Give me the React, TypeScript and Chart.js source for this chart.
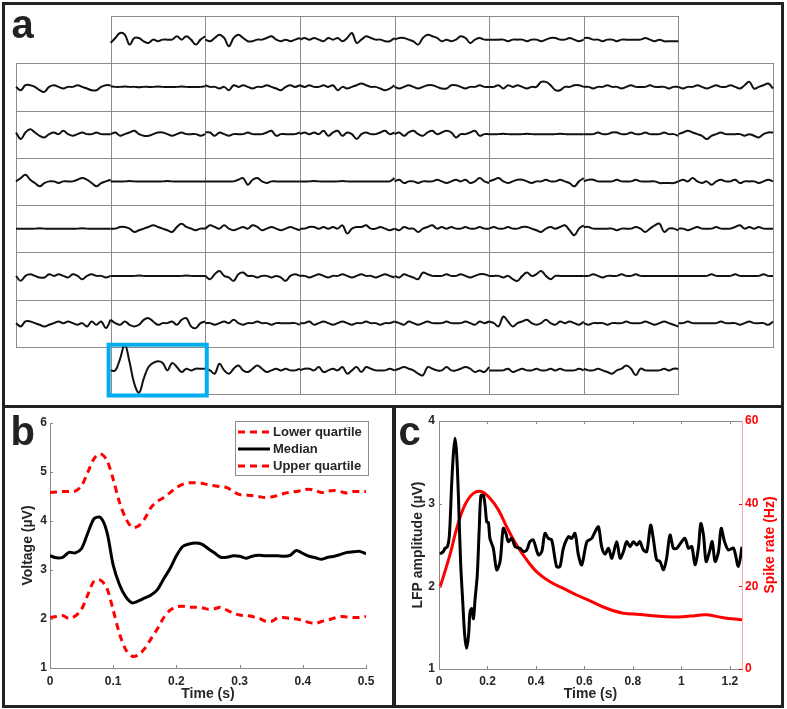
import React, { useEffect, useRef } from 'react';
import { Chart, registerables } from 'chart.js';

Chart.register(...registerables);

const FONT = "'Liberation Sans', Arial, Helvetica, sans-serif";
const TEXT = '#262626';
const AXIS = '#8a8a8a';
const RED = '#ff0000';
Chart.defaults.font.family = FONT;

// ---------------- Panel a : grid of electrode traces ----------------
const GRID_ROWS = 8;
const GRID_COLS = 8;
const ROW_COLUMNS = [
  [1, 2, 3, 4, 5, 6],
  [0, 1, 2, 3, 4, 5, 6, 7],
  [0, 1, 2, 3, 4, 5, 6, 7],
  [0, 1, 2, 3, 4, 5, 6, 7],
  [0, 1, 2, 3, 4, 5, 6, 7],
  [0, 1, 2, 3, 4, 5, 6, 7],
  [0, 1, 2, 3, 4, 5, 6, 7],
  [1, 2, 3, 4, 5, 6],
];
const HIGHLIGHT_ROW = 7;
const HIGHLIGHT_COL = 1;
const AMP = 0.035;

const ROW0_TRACES = [
  [-2, 1, 4, 3, -3, 1, 1, -1, -2, 0, -1, 0, 0, 0, 2, 0, 2, 0, -3, 0, 2],
  [0, -1, 1, 3, 1, -4, 1, 3, 1, -1, -1, 0, 0, 1, 2, 0, -1, 0, -1, 0, 1],
  [0, 1, 0, 1, 0, -1, 1, 0, 1, -1, 1, 4, -2, 0, 2, 1, 0, 0, -1, -1, 1],
  [0, 1, 1, 0, -1, -3, 1, 3, 2, 1, -1, 0, -1, 0, 2, 1, -2, 0, 1, 0, 0],
  [0, 0, 0, 0, -1, 0, 0, 0, -1, 0, 0, -1, 0, 1, 1, 0, 0, 1, 0, -1, 0],
  [1, 1, 0, 0, -1, 0, 0, -1, 0, 0, 0, 0, 0, 1, 0, -1, 0, -1, -1, -1, -1],
];
const ROW1_TRACES = [
  [0, -2, 1, 1, 0, -2, -3, 0, 1, 0, -1, 0, 0, 1, 0, -1, -2, -2, 0, 1, 1],
  [0.3, 0, 0, 0.2, 0, 0, -0.2, 0, 0, 0, 0.2, 0, 0, 0, 0, 0.2, 0, 0, 0, 0, 0.3],
  [1, 0, 0, -1, 0, -2, 1, 0, 1, 0, -1, 0, 0, 1, 0, -1, -2, 0, 1, 0, 1],
  [1, 0, 1, 0, 0, 1, 0, 1, -2, 0, -1, 0, 1, 2, 1, 0, 0, -1, -2, -1, 1],
  [0, -1, 0, 1, 0, -1, 0, 1, 1, 0, -1, -1, 1, 1, 0, -1, 0, 0, 1, 0, 0],
  [0, 0, 1, -1, 1, 0, 1, 0, -1, 0, 0, 3, 3, 1, -2, -2, 0, 0, 1, 1, 0],
  [0, 0, -1, 0, 0, 1, 0, 0, -1, 0, 1, 0, 0, 0, 1, 0, 0, 0, -1, 0, 0],
  [0, -1, 0, 0, 1, 0, -1, 0, 1, 0, 0, 1, 0, -1, 1, 3, -1, 0, 1, 2, -1],
];
const ROW2_TRACES = [
  [1, -3, 1, 3, 1, -1, -2, 0, 1, 0, 2, 0, -1, 0, 1, 0, 0, 1, 0, 0, 0],
  [0, 1, -1, 0, 1, 2, 0, -1, -1, 0, 1, 1, 0, -1, 0, 1, 0, 0, 0, -1, 0],
  [1, 1, -1, 1, 0, -1, 0, 0, 0, 1, 0, 0, 0, 1, 2, -1, 0, 0, 0, 0, 1],
  [0, 1, 0, 1, 0, 2, -1, 1, 2, -1, 1, 0, -3, 0, 1, 0, 0, 1, 2, 0, 1],
  [0, 1, -1, 1, 2, 0, -1, 1, 2, 0, 1, 2, 1, -2, 0, 0, 1, 2, -1, 0, 0],
  [0, 0, 0, 0.2, 0, 0, 0, 0, 0.2, 0, 0, 0, 0, 0, 0, 0.2, 0, 0, 0, 0, 0],
  [0, 0, 0, 1, 0, 0, 1, 1, 0, 0, 1, 0, 0, 1, 0, 0, 0, 1, 0, 0, -1],
  [0, 1, 2, 1, 0, -1, -3, -1, 0, 1, 0, 0, 0, 0, -1, 0, -1, -2, 0, 1, 1],
];
const ROW3_TRACES = [
  [0, 2, 4, 1, -1, -3, -1, 0, 0, -1, 0, 0, 0, 1, 2, 1, -1, -3, -1, 0, 1],
  [0, 0, 0, 0, 0.2, 0, 0, 0, 0, 0, 0, 0, 0.2, 0, 0, 0, 0, 0, 0, 0, 0],
  [0, 0, 0, 0, 0, 0, 0, 1, 2, -2, 1, 2, 0, -1, 0, 0, 0, 0, 0, 0, 0],
  [0, 0, 0, 0.2, 0, 0, 0, 0, 0, 0.2, 0, 0, 0, 0, 0, 0, 0, 0, 0, 0, 2],
  [0, 1, -1, 0, 0, -1, 0, 0, 0, 1, 0, -1, 0, 1, 0, 1, -1, 0, 2, 0, -1],
  [0, 1, 2, 0, -1, 0, 1, 1, 0, -1, 0, 0, 1, 0, 0, 1, 0, -1, -3, 0, 2],
  [0, 1, 1, 0, 0, 0, 0, 1, 0, 0, 0, 1, 0, 0, 0, 0, -1, -1, -1, -1, 0],
  [0, 1, 0, 2, 0, -1, 0, -2, 0, 1, 0, 0, 1, -1, 0, 0, 0, -1, 0, 1, 0],
];
const ROW4_TRACES = [
  [0, 0, 0, 0, 0, 0.2, 0, 0, 0, 0, 0, 0, 0, 0, 0.2, 0, 0, 0, 0, 0, 0],
  [0, 0, 1, 1, 0, -2, -1, 0, 1, 2, 1, 0, -1, -2, 1, 3, 1, 0, -1, 0, 0],
  [0, 2, 1, 0, 2, 0, -1, 0, 1, 0, 2, 1, -1, 0, 1, 0, -1, 0, 1, 0, -1],
  [0, 0, 1, 1, 0, 1, 0, 1, 0, 2, -3, 0, 1, 1, 2, 0, 0, 1, 0, -1, 0],
  [0, -1, 1, 0, 0, -2, 0, 1, 2, 0, 1, 0, 1, 0, 0, 1, 0, 0, 1, 0, 0],
  [0, 1, 0, 0, 1, 0, 0, 1, 1, 0, -1, -2, 0, 1, 0, 1, 2, -1, -4, 0, 2],
  [1, 1, 0, 0, 0, 0, 0, -1, 0, 0, 0, 1, 0, -2, 0, 2, 3, -2, 0, 0, -1],
  [0, 0, -1, 0, 1, 0, 0, 0, 1, 0, 0, 0, 1, 2, 0, 1, 0, 1, 0, 0, 0],
];
const ROW5_TRACES = [
  [0, -3, 0, 1, 0, -1, -1, 1, 0, 1, 0, -1, 1, 0, -2, 0, 1, 0, 0, -1, 0],
  [0, 0, 0, 0, 0, 0, 0.2, 0, 0, 0, 0, 0, 0, 0, 0, 0, 0.2, 0, 0, 0, 0],
  [0, -2, 1, 3, 0, -1, -3, 1, 2, 0, 0, -1, 0, 0, -1, 0, -1, -3, 0, 1, 0],
  [0, 0, -1, 0, 1, 0, -1, 0, 0, 1, 0, -1, 0, 1, 0, 0, -1, 0, 1, 0, -1],
  [0, -1, 1, 0, -1, -2, 2, 1, 0, 0, 0, 1, 0, 0, 1, 0, -1, 0, 1, 1, 0],
  [0, 0, 0, -1, 0, -2, -3, 0, 2, 0, 1, 3, 0, -2, 0, 0, 0, 0, 0, 0, 0],
  [0, 0, 1, 0, -1, 0, 0, 0, 1, 0, 0, 1, 0, 0, 0, 0, 0, 0, 0, 0, 0],
  [0, 0, 0, 0, 0, 0, 0, 1, 0, 0, 0, 0, 1, 0, 0, 0, 0, 0, 1, 0, 0],
];
const ROW6_TRACES = [
  [0, -2, 1, 1, 0, -1, -2, -1, 0, 1, 0, 1, 0, -1, 0, -2, 1, -1, 1, -3, 2],
  [2, 0, -1, 1, -1, -2, -1, 2, 3, 1, -1, 0, 0, 1, -1, 2, 3, -2, -3, 0, 1],
  [0, 0, -1, 0, 1, 0, 2, 0, -1, 0, 0, 1, 0, 0, -1, 0, 0, 0, 0, 0, -1],
  [0, 0, 1, -1, 0, 1, 0, -1, 0, 1, 0, -1, 0, 0, 1, 0, 0, -1, 0, 0, 1],
  [1, 0, -1, 1, 0, -1, 0, 1, 0, 0, 0, 1, 0, 0, 0, 1, 0, -1, 1, 0, 1],
  [1, 0, -2, 4, 1, -2, 0, 1, 2, 0, -1, 0, 2, 0, -1, 1, 0, 1, 0, -1, 1],
  [0, -1, 0, 0, 0, -1, 0, 0, 0, 1, 0, 0, 0, 1, 0, -1, 0, 1, 0, -1, -2],
  [0, 0, 1, 0, 0, 0, 0, 0, 0, 1, 0, 0, 0, -1, 0, 1, 0, 0, 0, -1, 1],
];
const ROW7_TRACES = [
  [0, 0, 7, 15.5, 5, -8, -13.5, -5, 2, 4.5, 5.5, 4.5, 0, 4.5, 2, -1, 1, 0, 1, 1, 1],
  [1, 0, -2, 4, 0, -2, 1, 3, 0, -1, 1, 3, 1, -1, 0, 1, 0, 1, 0, 0, 1],
  [0, 1, 1, 0, 2, -1, 0, 1, 0, 2, -2, 0, 2, -1, 2, 1, 0, 0, 0, 1, 0],
  [0, 1, 2, 1, 0, -2, -3, 2, 1, 0, 0, 2, 0, 0, 1, 2, 1, -1, 0, -1, 2],
  [0, 0, 0, 0, 1, -1, 0, 1, 0, 0, 1, 0, 0, 1, 0, 1, 0, 0, 0, 1, 0],
  [1, 0, 0, 1, 0, -1, -2, 0, 1, 3, 1, -3, 1, 0, 0, 0, 0, 1, 0, 1, 1],
];
const TRACE_ROWS = [ROW0_TRACES, ROW1_TRACES, ROW2_TRACES, ROW3_TRACES, ROW4_TRACES, ROW5_TRACES, ROW6_TRACES, ROW7_TRACES];

// ---------------- Panel b : quartiles ----------------
const B_TIME = [0, 0.01, 0.02, 0.03, 0.04, 0.05, 0.06, 0.07, 0.08, 0.09, 0.1, 0.11, 0.12, 0.13, 0.14, 0.15, 0.16, 0.17, 0.18, 0.19, 0.2, 0.21, 0.22, 0.23, 0.24, 0.25, 0.26, 0.27, 0.28, 0.29, 0.3, 0.31, 0.32, 0.33, 0.34, 0.35, 0.36, 0.37, 0.38, 0.39, 0.4, 0.41, 0.42, 0.43, 0.44, 0.45, 0.46, 0.47, 0.48, 0.49, 0.5];
const B_LOWER = [2.03, 2.05, 2.07, 2.01, 2.06, 2.2, 2.5, 2.78, 2.79, 2.63, 2.18, 1.7, 1.37, 1.24, 1.27, 1.4, 1.6, 1.8, 2.03, 2.18, 2.25, 2.26, 2.24, 2.24, 2.23, 2.2, 2.21, 2.24, 2.18, 2.12, 2.08, 2.07, 2.05, 2.02, 1.96, 1.95, 2.02, 2.03, 2.01, 2.0, 1.97, 1.93, 1.91, 1.95, 1.98, 2.02, 2.05, 2.04, 2.03, 2.03, 2.05];
const B_MEDIAN = [3.29, 3.25, 3.26, 3.36, 3.35, 3.44, 3.76, 4.05, 4.07, 3.78, 3.1, 2.7, 2.45, 2.33, 2.37, 2.43, 2.49, 2.6, 2.82, 3.03, 3.29, 3.48, 3.53, 3.55, 3.53, 3.44, 3.35, 3.26, 3.26, 3.29, 3.28, 3.24, 3.28, 3.3, 3.29, 3.29, 3.29, 3.28, 3.3, 3.4, 3.34, 3.28, 3.25, 3.22, 3.26, 3.28, 3.32, 3.36, 3.37, 3.38, 3.33];
const B_UPPER = [4.58, 4.59, 4.6, 4.6, 4.61, 4.72, 5.0, 5.28, 5.37, 5.24, 4.85, 4.38, 4.05, 3.87, 3.9, 4.05, 4.28, 4.4, 4.48, 4.58, 4.68, 4.75, 4.78, 4.78, 4.77, 4.74, 4.72, 4.7, 4.68, 4.6, 4.54, 4.53, 4.52, 4.5, 4.48, 4.49, 4.52, 4.56, 4.59, 4.6, 4.63, 4.65, 4.62, 4.58, 4.61, 4.62, 4.6, 4.57, 4.6, 4.6, 4.6];
const B_X_TICKS = [0, 0.1, 0.2, 0.3, 0.4, 0.5];
const B_Y_TICKS = [1, 2, 3, 4, 5, 6];
const B_LABELS = ['Lower quartile', 'Median', 'Upper quartile'];

// ---------------- Panel c : LFP vs spike rate ----------------
const LFP_TIME = [0.004, 0.018, 0.025, 0.035, 0.043, 0.052, 0.059, 0.066, 0.073, 0.08, 0.089, 0.098, 0.106, 0.114, 0.122, 0.128, 0.135, 0.142, 0.149, 0.158, 0.166, 0.173, 0.183, 0.19, 0.197, 0.204, 0.21, 0.224, 0.238, 0.252, 0.265, 0.276, 0.286, 0.3, 0.314, 0.334, 0.348, 0.362, 0.375, 0.389, 0.41, 0.424, 0.437, 0.451, 0.465, 0.485, 0.499, 0.513, 0.534, 0.547, 0.561, 0.575, 0.589, 0.61, 0.63, 0.644, 0.658, 0.671, 0.685, 0.699, 0.713, 0.733, 0.747, 0.761, 0.774, 0.788, 0.802, 0.816, 0.829, 0.843, 0.857, 0.873, 0.884, 0.898, 0.912, 0.926, 0.939, 0.953, 0.967, 0.981, 1.001, 1.015, 1.029, 1.043, 1.056, 1.07, 1.08, 1.091, 1.102, 1.116, 1.127, 1.139, 1.153, 1.164, 1.178, 1.194, 1.215, 1.235, 1.25];
const LFP_AMP = [2.39, 2.42, 2.46, 2.48, 2.62, 3.22, 3.59, 3.79, 3.59, 3.1, 2.3, 1.81, 1.41, 1.25, 1.41, 1.69, 1.73, 1.61, 1.85, 2.14, 2.7, 3.1, 3.1, 2.98, 2.78, 2.77, 2.58, 2.46, 2.2, 2.3, 2.7, 2.64, 2.54, 2.58, 2.48, 2.46, 2.42, 2.44, 2.54, 2.56, 2.38, 2.42, 2.64, 2.58, 2.56, 2.24, 2.24, 2.46, 2.6, 2.58, 2.64, 2.38, 2.26, 2.54, 2.58, 2.66, 2.72, 2.48, 2.39, 2.46, 2.34, 2.54, 2.34, 2.42, 2.54, 2.48, 2.54, 2.5, 2.54, 2.44, 2.42, 2.74, 2.58, 2.32, 2.3, 2.2, 2.34, 2.62, 2.46, 2.46, 2.54, 2.58, 2.46, 2.48, 2.26, 2.46, 2.76, 2.62, 2.3, 2.42, 2.54, 2.3, 2.42, 2.7, 2.54, 2.44, 2.46, 2.24, 2.48];
const SPIKE_TIME = [0.004, 0.045, 0.073, 0.107, 0.142, 0.176, 0.21, 0.245, 0.279, 0.32, 0.362, 0.403, 0.458, 0.513, 0.568, 0.623, 0.691, 0.76, 0.829, 0.898, 0.967, 1.036, 1.104, 1.173, 1.25];
const SPIKE_RATE = [19.7, 27.6, 34.0, 39.7, 42.5, 42.9, 41.3, 38.5, 34.4, 30.0, 26.4, 23.5, 21.1, 19.5, 17.9, 16.5, 14.7, 13.5, 13.2, 12.8, 12.6, 12.8, 13.1, 12.4, 11.9];
const C_X_TICKS = [0, 0.2, 0.4, 0.6, 0.8, 1, 1.2];
const C_Y_TICKS = [1, 2, 3, 4];
const C_Y2_TICKS = [0, 20, 40, 60];

// ---------------- helpers ----------------
type TickSpec = { scale: string; edge: 'top' | 'bottom' | 'left' | 'right'; color: string; len: number };

function innerTicks(specs: TickSpec[]) {
  return {
    id: 'innerTicks',
    afterDatasetsDraw(chart: any) {
      const { ctx, chartArea: ca } = chart;
      ctx.save();
      ctx.lineWidth = 1;
      specs.forEach((s) => {
        const scale = chart.scales[s.scale];
        ctx.strokeStyle = s.color;
        scale.ticks.forEach((t: any) => {
          const p = Math.round(scale.getPixelForValue(t.value)) + 0.5;
          ctx.beginPath();
          if (s.edge === 'bottom') { ctx.moveTo(p, ca.bottom); ctx.lineTo(p, ca.bottom - s.len); }
          if (s.edge === 'top') { ctx.moveTo(p, ca.top); ctx.lineTo(p, ca.top + s.len); }
          if (s.edge === 'left') { ctx.moveTo(ca.left, p); ctx.lineTo(ca.left + s.len, p); }
          if (s.edge === 'right') { ctx.moveTo(ca.right, p); ctx.lineTo(ca.right - s.len, p); }
          ctx.stroke();
        });
      });
      ctx.restore();
    },
  };
}

const fixedTicks = (values: number[]) => (scale: any) => {
  scale.ticks = values.map((v) => ({ value: v }));
};

const tickFont = { size: 12, weight: 'bold' as const, family: FONT };
const titleFont = { size: 14, weight: 'bold' as const, family: FONT };

// ---------------- Panel A ----------------
function PanelA() {
  const ref = useRef<HTMLCanvasElement>(null);
  useEffect(() => {
    const datasets: any[] = [];
    TRACE_ROWS.forEach((rowTraces, r) => {
      const cols = ROW_COLUMNS[r];
      rowTraces.forEach((vals, k) => {
        const c = cols[k];
        const yc = GRID_ROWS - r - 0.5;
        datasets.push({
          data: vals.map((v, i) => ({ x: c + i / (vals.length - 1), y: yc + v * AMP })),
          borderColor: '#111111',
          borderWidth: 2,
          pointRadius: 0,
          tension: 0.4,
          clip: false,
        });
      });
    });
    const cellPlugin = {
      id: 'cells',
      beforeDatasetsDraw(chart: any) {
        const { ctx, scales: { x, y } } = chart;
        ctx.save();
        ctx.strokeStyle = '#8c8c8c';
        ctx.lineWidth = 1;
        ROW_COLUMNS.forEach((cols, r) =>
          cols.forEach((c) => {
            const x0 = Math.round(x.getPixelForValue(c)) + 0.5;
            const x1 = Math.round(x.getPixelForValue(c + 1)) + 0.5;
            const y0 = Math.round(y.getPixelForValue(GRID_ROWS - r)) + 0.5;
            const y1 = Math.round(y.getPixelForValue(GRID_ROWS - r - 1)) + 0.5;
            ctx.strokeRect(x0, y0, x1 - x0, y1 - y0);
          })
        );
        ctx.restore();
      },
      afterDatasetsDraw(chart: any) {
        const { ctx, scales: { x, y } } = chart;
        const x0 = x.getPixelForValue(HIGHLIGHT_COL);
        const x1 = x.getPixelForValue(HIGHLIGHT_COL + 1);
        const y0 = y.getPixelForValue(GRID_ROWS - HIGHLIGHT_ROW);
        const y1 = y.getPixelForValue(GRID_ROWS - HIGHLIGHT_ROW - 1);
        ctx.save();
        ctx.strokeStyle = '#00aeef';
        ctx.lineWidth = 4;
        ctx.strokeRect(x0 - 2, y0 - 2, x1 - x0 + 3.5, y1 - y0 + 3.5);
        ctx.restore();
      },
    };
    const chart = new Chart(ref.current!, {
      type: 'line',
      data: { datasets },
      options: {
        responsive: false,
        animation: false,
        events: [],
        layout: { padding: 4 },
        plugins: { legend: { display: false }, tooltip: { enabled: false } },
        scales: {
          x: { type: 'linear', min: 0, max: GRID_COLS, display: false },
          y: { type: 'linear', min: 0, max: GRID_ROWS, display: false },
        },
      },
      plugins: [cellPlugin],
    } as any);
    return () => chart.destroy();
  }, []);
  return <canvas ref={ref} width={765} height={386} style={{ position: 'absolute', left: 12, top: 12 }} />;
}

// ---------------- Panel B ----------------
function PanelB() {
  const ref = useRef<HTMLCanvasElement>(null);
  useEffect(() => {
    const series = [B_LOWER, B_MEDIAN, B_UPPER];
    const datasets = series.map((vals, k) => ({
      label: B_LABELS[k],
      data: B_TIME.map((t, i) => ({ x: t, y: vals[i] })),
      borderColor: k === 1 ? '#000000' : RED,
      borderWidth: 3,
      borderDash: k === 1 ? [] : [7, 5],
      pointRadius: 0,
      tension: 0.3,
    }));
    const legendPlugin = {
      id: 'boxLegend',
      afterDraw(chart: any) {
        const { ctx, chartArea: ca } = chart;
        const w = 133;
        const h = 54;
        const left = Math.round(ca.right + 2 - w);
        const top = Math.round(ca.top - 2);
        ctx.save();
        ctx.fillStyle = '#ffffff';
        ctx.fillRect(left, top, w, h);
        ctx.strokeStyle = '#8c8c8c';
        ctx.lineWidth = 1;
        ctx.strokeRect(left + 0.5, top + 0.5, w, h);
        chart.data.datasets.forEach((ds: any, i: number) => {
          const yy = top + 11 + i * 17;
          ctx.strokeStyle = ds.borderColor;
          ctx.lineWidth = ds.borderWidth;
          ctx.setLineDash(ds.borderDash || []);
          ctx.beginPath();
          ctx.moveTo(left + 3, yy);
          ctx.lineTo(left + 35, yy);
          ctx.stroke();
          ctx.setLineDash([]);
          ctx.fillStyle = TEXT;
          ctx.font = `bold 13px ${FONT}`;
          ctx.textBaseline = 'middle';
          ctx.textAlign = 'left';
          ctx.fillText(ds.label, left + 38, yy);
        });
        ctx.restore();
      },
    };
    const chart = new Chart(ref.current!, {
      type: 'line',
      data: { datasets },
      options: {
        responsive: false,
        animation: false,
        events: [],
        layout: { padding: { left: 0, top: 14, right: 26, bottom: 0 } },
        plugins: { legend: { display: false }, tooltip: { enabled: false } },
        scales: {
          x: {
            type: 'linear', min: 0, max: 0.5,
            afterBuildTicks: fixedTicks(B_X_TICKS),
            afterFit: (s: any) => { s.height = 37; },
            grid: { display: false, drawTicks: false },
            border: { display: true, color: AXIS, width: 1 },
            ticks: { font: tickFont, color: TEXT, padding: 6, maxRotation: 0, autoSkip: false, callback: (v: any) => String(v) },
            title: { display: true, text: 'Time (s)', font: titleFont, color: TEXT, padding: { top: 0, bottom: 2 } },
          },
          y: {
            type: 'linear', min: 1, max: 6,
            afterBuildTicks: fixedTicks(B_Y_TICKS),
            afterFit: (s: any) => { s.width = 45; },
            grid: { display: false, drawTicks: false },
            border: { display: true, color: AXIS, width: 1 },
            ticks: { font: tickFont, color: TEXT, padding: 3, callback: (v: any) => String(v) },
            title: { display: true, text: 'Voltage (µV)', font: titleFont, color: TEXT, padding: { top: 14.6, bottom: 0 } },
          },
        },
      },
      plugins: [
        innerTicks([
          { scale: 'x', edge: 'bottom', color: AXIS, len: 3 },
          { scale: 'y', edge: 'left', color: AXIS, len: 3 },
        ]),
        legendPlugin,
      ],
    } as any);
    return () => chart.destroy();
  }, []);
  return <canvas ref={ref} width={387} height={296} style={{ position: 'absolute', left: 5, top: 409 }} />;
}

// ---------------- Panel C ----------------
function PanelC() {
  const ref = useRef<HTMLCanvasElement>(null);
  useEffect(() => {
    const rightTitle = {
      id: 'rightTitle',
      afterDraw(chart: any) {
        const { ctx, chartArea: ca } = chart;
        const s = chart.scales.y2;
        ctx.save();
        ctx.strokeStyle = AXIS;
        ctx.lineWidth = 1;
        ctx.beginPath();
        ctx.moveTo(ca.left, Math.round(ca.top) + 0.5);
        ctx.lineTo(ca.right, Math.round(ca.top) + 0.5);
        ctx.stroke();
        ctx.translate(s.right - 10, (ca.top + ca.bottom) / 2);
        ctx.rotate(-Math.PI / 2);
        ctx.textAlign = 'center';
        ctx.textBaseline = 'middle';
        ctx.fillStyle = RED;
        ctx.font = `bold 14px ${FONT}`;
        ctx.fillText('Spike rate (Hz)', 0, 0);
        ctx.restore();
      },
    };
    const chart = new Chart(ref.current!, {
      type: 'line',
      data: {
        datasets: [
          {
            label: 'LFP amplitude',
            data: LFP_TIME.map((t, i) => ({ x: t, y: LFP_AMP[i] })),
            yAxisID: 'y',
            borderColor: '#000000',
            borderWidth: 3,
            pointRadius: 0,
            tension: 0.3,
          },
          {
            label: 'Spike rate',
            data: SPIKE_TIME.map((t, i) => ({ x: t, y: SPIKE_RATE[i] })),
            yAxisID: 'y2',
            borderColor: RED,
            borderWidth: 3,
            pointRadius: 0,
            tension: 0.4,
          },
        ],
      },
      options: {
        responsive: false,
        animation: false,
        events: [],
        layout: { padding: { left: 0, top: 12, right: 0, bottom: 0 } },
        plugins: { legend: { display: false }, tooltip: { enabled: false } },
        scales: {
          x: {
            type: 'linear', min: 0, max: 1.25,
            afterBuildTicks: fixedTicks(C_X_TICKS),
            afterFit: (s: any) => { s.height = 36; },
            grid: { display: false, drawTicks: false },
            border: { display: true, color: AXIS, width: 1 },
            ticks: { font: tickFont, color: TEXT, padding: 5, maxRotation: 0, autoSkip: false, callback: (v: any) => String(v) },
            title: { display: true, text: 'Time (s)', font: titleFont, color: TEXT, padding: { top: 0, bottom: 2 } },
          },
          y: {
            type: 'linear', position: 'left', min: 1, max: 4,
            afterBuildTicks: fixedTicks(C_Y_TICKS),
            afterFit: (s: any) => { s.width = 44; },
            grid: { display: false, drawTicks: false },
            border: { display: true, color: AXIS, width: 1 },
            ticks: { font: tickFont, color: TEXT, padding: 4, callback: (v: any) => String(v) },
            title: { display: true, text: 'LFP amplitude (µV)', font: titleFont, color: TEXT, padding: { top: 14.6, bottom: 0 } },
          },
          y2: {
            type: 'linear', position: 'right', min: 0, max: 60,
            afterBuildTicks: fixedTicks(C_Y2_TICKS),
            afterFit: (s: any) => { s.width = 38; },
            grid: { display: false, drawTicks: false },
            border: { display: true, color: 'rgba(255,0,0,0.35)', width: 1 },
            ticks: { font: tickFont, color: RED, padding: 3, callback: (v: any) => String(v) },
          },
        },
      },
      plugins: [
        innerTicks([
          { scale: 'x', edge: 'bottom', color: AXIS, len: 3 },
          { scale: 'x', edge: 'top', color: AXIS, len: 3 },
          { scale: 'y', edge: 'left', color: AXIS, len: 3 },
          { scale: 'y2', edge: 'right', color: RED, len: 3 },
        ]),
        rightTitle,
      ],
    } as any);
    return () => chart.destroy();
  }, []);
  return <canvas ref={ref} width={385} height={296} style={{ position: 'absolute', left: 395, top: 409 }} />;
}

const frame = (left: number, top: number, width: number, height: number): React.CSSProperties => ({
  position: 'absolute', left, top, width, height, border: '3px solid #222', boxSizing: 'border-box',
});

const label = (left: number, top: number): React.CSSProperties => ({
  position: 'absolute', left, top, fontFamily: FONT, fontWeight: 'bold', fontSize: 40, lineHeight: '40px', color: '#222',
});

export default function App() {
  return (
    <div style={{ position: 'fixed', left: 0, top: 0, width: 787, height: 709, background: '#fff', overflow: 'hidden' }}>
      <div style={frame(2, 2, 782, 406)} />
      <div style={frame(2, 405, 394, 303)} />
      <div style={frame(392, 405, 392, 303)} />
      <PanelA />
      <PanelB />
      <PanelC />
      <div style={label(11.5, 4)}>a</div>
      <div style={label(10.5, 411)}>b</div>
      <div style={label(398.5, 411)}>c</div>
    </div>
  );
}
